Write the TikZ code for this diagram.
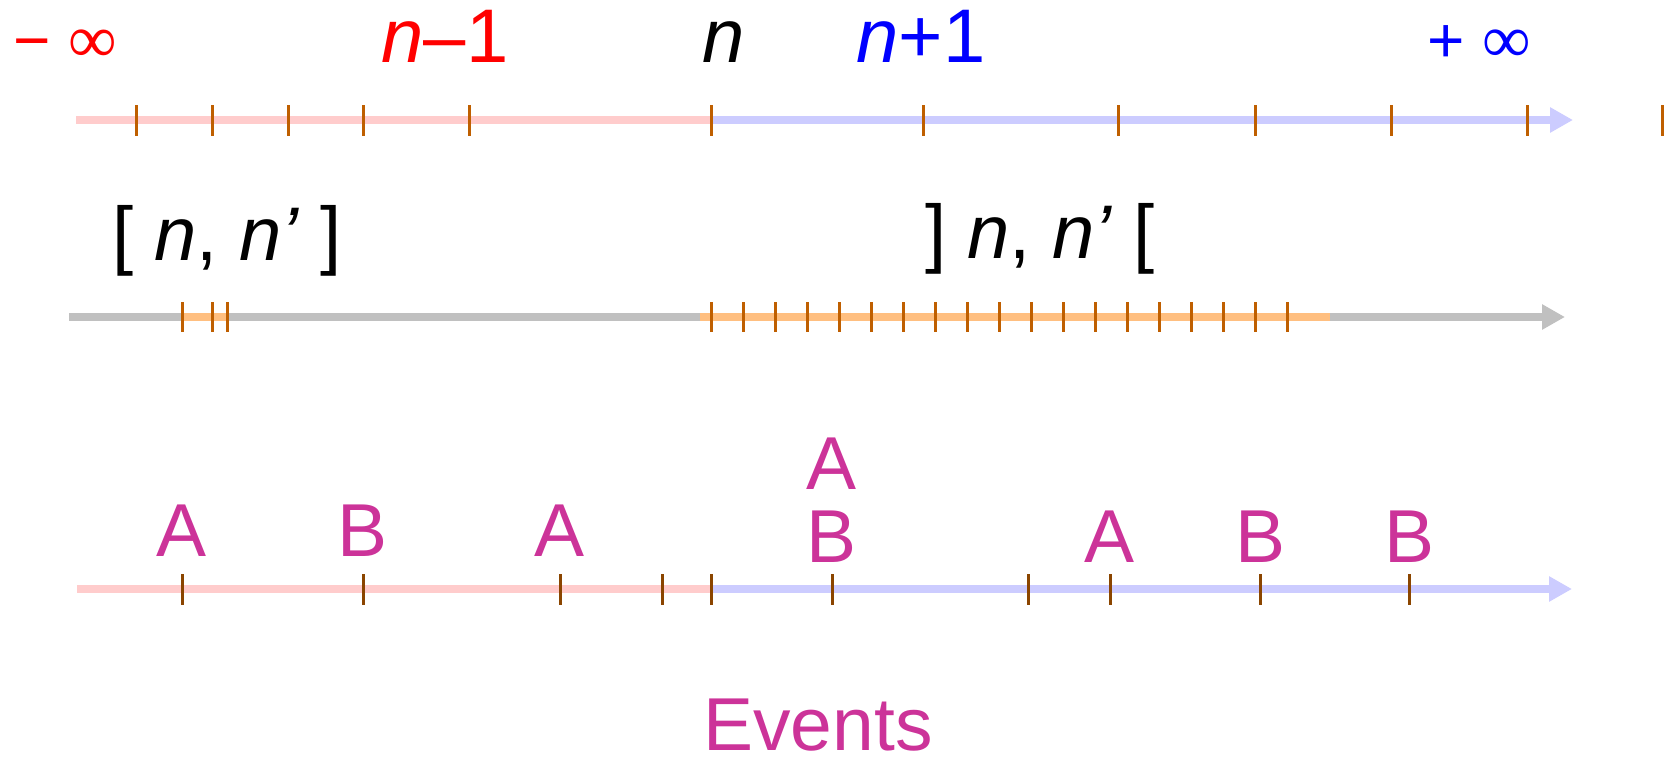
\documentclass[tikz,border=0pt]{standalone}
\usepackage{fontspec}
\setmainfont{Liberation Sans}
\newfontfamily\inffont{Liberation Serif}
\usetikzlibrary{arrows.meta}

\definecolor{pastpink}{HTML}{FFCCCC}
\definecolor{futureblue}{HTML}{CCCCFF}
\definecolor{lightgray}{HTML}{C0C0C0}
\definecolor{lightorange}{HTML}{FFBF80}
\definecolor{tickorange}{HTML}{BF5F00}
\definecolor{tickbrown}{HTML}{8B4500}
\definecolor{eventmagenta}{HTML}{CC3399}

\newcommand{\biginf}{{\inffont\fontsize{68}{70}\selectfont ∞}}

\begin{document}
\begin{tikzpicture}[
    x=1pt, y=-1pt,
    axis/.style={line width=8pt},
    axisarrow/.style={axis, -{Triangle[length=23pt,width=24pt]}},
    tickmark/.style={line width=3pt, draw=tickorange},
    eventtick/.style={line width=3pt, draw=tickbrown},
    biglabel/.style={anchor=base, inner sep=0pt, font=\fontsize{76}{78}\selectfont},
    inflabel/.style={anchor=base, inner sep=0pt, font=\fontsize{64}{66}\selectfont},
    eventlabel/.style={anchor=base, inner sep=0pt, text=eventmagenta, font=\fontsize{75}{77}\selectfont}
]
\useasboundingbox (0,0) rectangle (1671,763);

% number line
\coordinate (lineA) at (76,120);
\coordinate (nowA) at (711,120);
\coordinate (endA) at (1573,120);
\draw[axis, draw=pastpink] (lineA) -- (nowA);
\draw[axisarrow, draw=futureblue, fill=futureblue] (nowA) -- (endA);
\foreach \x in {136,212,288,363,469,711,923,1118,1255,1391,1527,1662}
    \draw[tickmark] (\x,105) -- (\x,136);

\node[inflabel, text=red] (minf) at (65,62) {− \biginf};
\node[biglabel, text=red] (nminus) at (445,62) {\textit{n}–1};
\node[biglabel] (ncur) at (724,62) {\textit{n}};
\node[biglabel, text=blue] (nplus) at (921,62) {\textit{n}+1};
\node[inflabel, text=blue] (pinf) at (1479,62) {+ \biginf};

% intervals
\coordinate (lineB) at (69,317);
\coordinate (endB) at (1565,317);
\draw[axisarrow, draw=lightgray, fill=lightgray] (lineB) -- (endB);
\coordinate (closedL) at (182,317);
\coordinate (closedR) at (228,317);
\coordinate (openL) at (700,317);
\coordinate (openR) at (1330,317);
\draw[axis, draw=lightorange] (closedL) -- (closedR);
\draw[axis, draw=lightorange] (openL) -- (openR);
\foreach \x in {182,212,227}
    \draw[tickmark] (\x,302) -- (\x,332);
\foreach \i in {0,...,18}
    \draw[tickmark] ({711+32*\i},302) -- ({711+32*\i},332);

\node[biglabel] (closed) at (227,260) {[ \textit{n}, \textit{n’} ]};
\node[biglabel] (open) at (1040,258) {] \textit{n}, \textit{n’} [};

% events
\coordinate (lineC) at (77,589);
\coordinate (nowC) at (711,589);
\coordinate (endC) at (1572,589);
\draw[axis, draw=pastpink] (lineC) -- (nowC);
\draw[axisarrow, draw=futureblue, fill=futureblue] (nowC) -- (endC);
\foreach \x in {182,363,560,662,711,832,1028,1110,1260,1409}
    \draw[eventtick] (\x,574) -- (\x,605);

\node[eventlabel] (ev1) at (182,556) {A};
\node[eventlabel] (ev2) at (363,556) {B};
\node[eventlabel] (ev3) at (560,556) {A};
\node[eventlabel] (ev4) at (832,562) {B};
\node[eventlabel] (ev4a) at (832,489) {A};
\node[eventlabel] (ev5) at (1110,562) {A};
\node[eventlabel] (ev6) at (1260,562) {B};
\node[eventlabel] (ev7) at (1409,562) {B};

\node[eventlabel] (events) at (818,750) {Events};

\end{tikzpicture}
\end{document}
